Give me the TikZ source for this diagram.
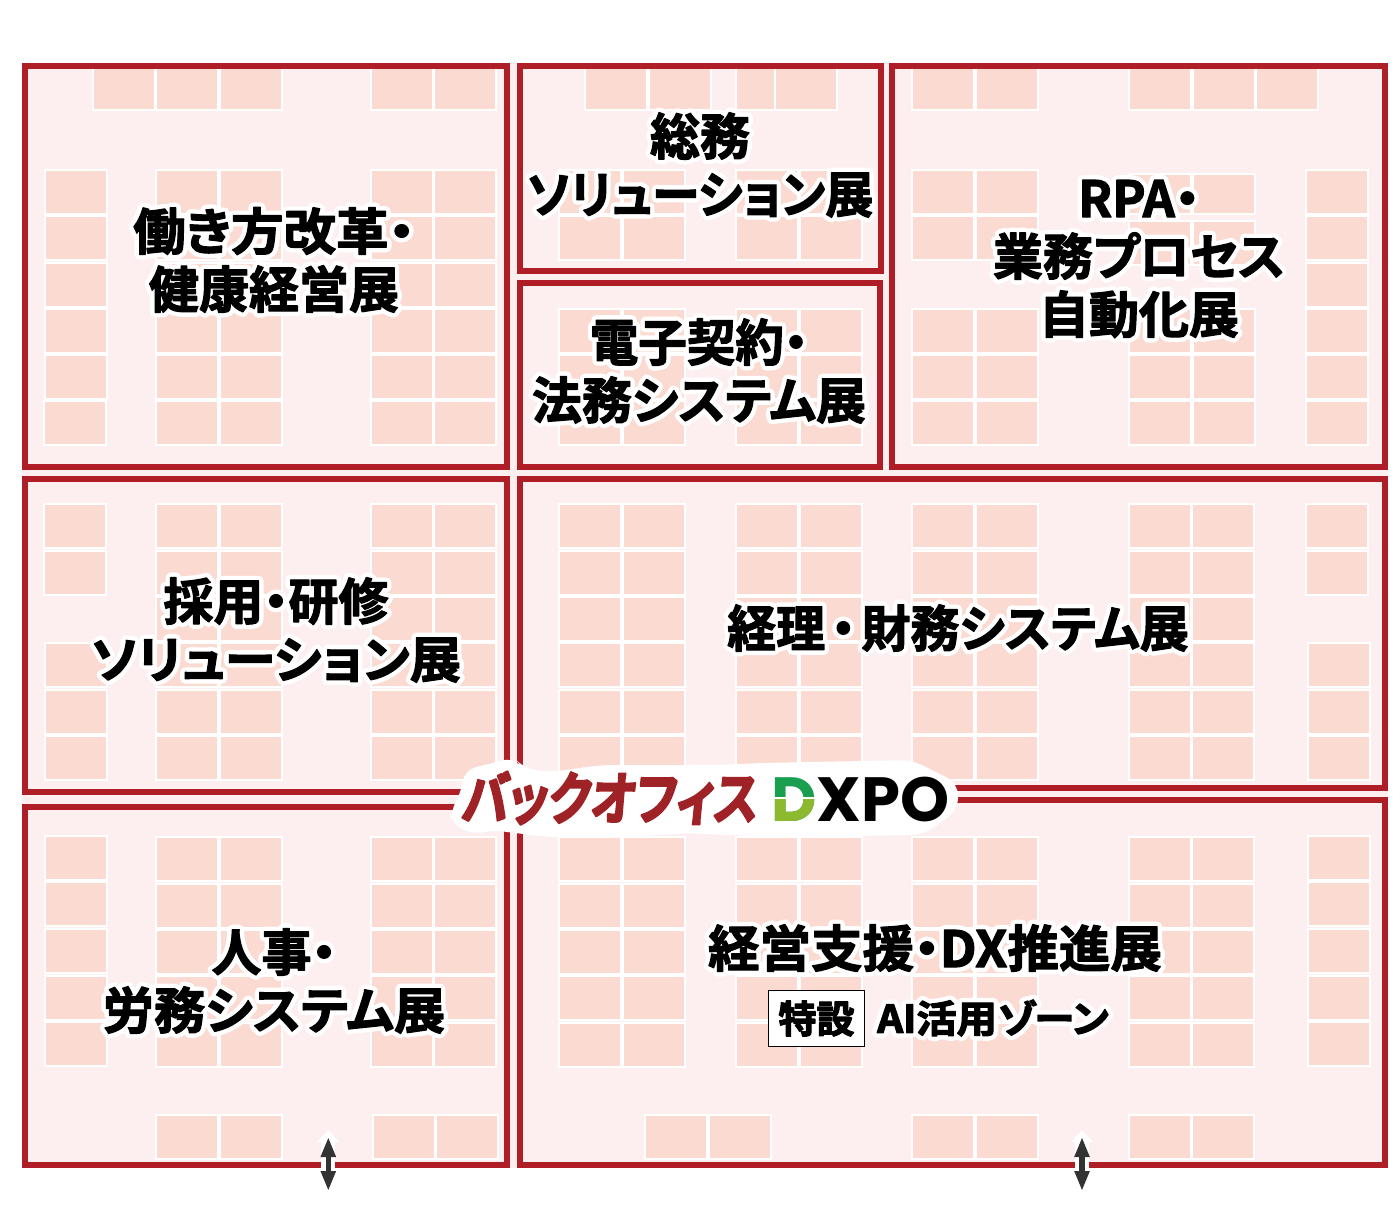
\documentclass[tikz,border=0pt]{standalone}
\usepackage{fontspec}
\usepackage{graphicx}
\usetikzlibrary{arrows.meta}
\setmainfont{Noto Sans CJK JP}[RawFeature=+palt]
\newfontfamily\jpfont{Noto Sans CJK JP}[BoldFont={Noto Sans CJK JP Bold},RawFeature=+palt]
\newfontfamily\logofont{Poppins}
\definecolor{floorpink}{RGB}{253,238,240}
\definecolor{boothpink}{RGB}{251,218,209}
\definecolor{zonered}{RGB}{175,30,38}
\definecolor{logored}{RGB}{158,34,38}
\definecolor{logogreen}{RGB}{26,158,80}
\definecolor{logolime}{RGB}{141,185,46}
\definecolor{arrowgrey}{RGB}{51,51,51}
\newcommand\plainrender{\special{pdf:code 0 Tr 1 w 0 j 0 J 0 0 0 RG}}
\newcommand\halorender{\special{pdf:code 1 Tr 10 w 1 j 1 J 1 1 1 RG}}
\newcommand\inkrender{\special{pdf:code 2 Tr 1.2 w 1 j 1 J 0 0 0 RG}}
\let\linerender\plainrender
\tikzset{
  booth/.style={fill=boothpink,draw=white,line width=2pt},
  zone/.style={draw=zonered,line width=6pt,miter limit=10},
  zonefont/.style={inner sep=0pt,align=center,font=\jpfont\bfseries\fontsize{#1}{58}\selectfont},
  zonehalo/.style={zonefont=#1,
    execute at begin node={\let\linerender\halorender\halorender},
    execute at end node={\plainrender}},
  zonelabel/.style={zonefont=#1,
    execute at begin node={\let\linerender\inkrender\inkrender},
    execute at end node={\plainrender}},
  tagbox/.style={draw=black,fill=white,line width=1.5pt,minimum width=96pt,minimum height=56pt,inner sep=0pt,
    font=\jpfont\bfseries\fontsize{38}{38}\selectfont,
    execute at begin node={\inkrender},
    execute at end node={\plainrender}},
  doublearrow/.style={draw=arrowgrey,line width=5.5pt,{Triangle[length=20pt,width=14pt]}-{Triangle[length=20pt,width=14pt]}},
  arrowhalo/.style={draw=white,line width=14pt,-{Triangle[length=12pt,width=22pt]}}
}
% one grid of booths: optional height, columns, rows
\newcommand\boothgrid[3][42]{%
  \foreach \bx in {#2}{\foreach \by in {#3}{\draw[booth] (\bx-1,\by-1) rectangle +(62,#1+2);}}%
}
\newcommand\zonetitle[4][50]{%
  \node[zonehalo=#1] at (#3) {#4};
  \node[zonelabel=#1] (#2) at (#3) {#4};
}
\newcommand\xfit[2]{\scalebox{#1}[1]{#2}\linerender}
\begin{document}
\begin{tikzpicture}[x=1pt,y=-1pt]
\useasboundingbox (0,0) rectangle (1400,1208);
\fill[floorpink] (22,63) rectangle (1388,1168);
% zone top left
\boothgrid[40]{94.3,157.3,221,371.7,435.3}{69}
\boothgrid{46}{171,217.3,263.7,310,356}
\boothgrid{44.7}{402.3}
\boothgrid{157.3,221,371.7,435.3}{171,217.3,263.7,310,356,402.3}
% zones in the top middle
\boothgrid[40]{586,650,737,776}{69}
\boothgrid{560,623.5,737,800.6}{171,217.3}
\boothgrid{560,623.5,737,800.6}{310,356,402.3}
% zone top right
\boothgrid[40]{913,977,1130.3,1194,1257.4}{69}
\boothgrid{913,977}{171,217.3,310,356,402.3}
\boothgrid[38]{1130.3,1194}{175}
\boothgrid{1130.3,1194}{221.7,310,356,402.3}
\boothgrid{1306.8}{171,217.3,263.7,310,356,402.3}
% middle row
\boothgrid{44.7}{505,551.7}
\boothgrid{46}{644.3,690.7,737}
\boothgrid{157.3,221,371.7,435.3}{505,551.7,598,644.3,690.7,737}
\boothgrid{560,623.5,737,800.6,913,977,1129.8,1193.3}{505,551.7,598,644.3,690.7,737}
\boothgrid{1306.8}{505,551.7}
\boothgrid{1309}{644.3,690.7,737}
% bottom row
\boothgrid{46}{836.7,883.3,930,976.7,1022.7}
\boothgrid{157.3,221,371.7,435.3}{838.3,885,931,977.3,1023.7}
\boothgrid{157.3,221,373.7,437.3}{1116}
\boothgrid{560,623.5,737,800.6,913,977,1129.8,1193.3}{838.3,885,931,977.3,1023.7}
\boothgrid{1308.5}{836.7,883.3,930,976.7,1022.7}
\boothgrid{646.2,709.8,913,977,1129.8,1193.3}{1116}

\draw[zone] (25,66) rectangle (507,466.5);
\draw[zone] (520,66) rectangle (881,270.5);
\draw[zone] (520,282.5) rectangle (880,466.5);
\draw[zone] (892.3,66) rectangle (1385,467);
\draw[zone] (25,478.5) rectangle (507,792);
\draw[zone] (520,478.5) rectangle (1385,788);
\draw[zone] (25,807) rectangle (507,1165);
\draw[zone] (520,800) rectangle (1385,1165);

% arrows through the bottom wall
\coordinate (arrowLtop) at (328.3,1137);
\coordinate (arrowLbot) at (328.3,1191);
\coordinate (arrowLhalo) at (328.3,1172);
\coordinate (arrowLpeak) at (328.3,1130);
\coordinate (arrowRtop) at (1082,1137);
\coordinate (arrowRbot) at (1082,1191);
\coordinate (arrowRhalo) at (1082,1172);
\coordinate (arrowRpeak) at (1082,1130);
\draw[arrowhalo] (arrowLhalo) -- (arrowLpeak);
\draw[arrowhalo] (arrowRhalo) -- (arrowRpeak);
\draw[doublearrow] (arrowLtop) -- (arrowLbot);
\draw[doublearrow] (arrowRtop) -- (arrowRbot);

\zonetitle{workstyle}{274,260}{\xfit{1.05}{働き方改革・}\\健康経営展}
\zonetitle{soumu}{700,165}{総務\\\xfit{.96}{ソリューション展}}
\zonetitle{keiyaku}{699,371}{\xfit{.97}{電子契約・}\\法務システム展}
\zonetitle{rpa}{1139,259}{RPA・\\業務プロセス\\自動化展}
\zonetitle{saiyou}{276,630}{採用・研修\\\xfit{1.025}{ソリューション展}}
\zonetitle{keiri}{958,628}{\xfit{.98}{経理\hspace{6pt}・\hspace{6pt}財務システム展}}
\zonetitle{jinji}{274,981}{人事・\\\xfit{1.025}{労務システム展}}
\zonetitle{keiei}{935,948}{\xfit{1.03}{経営支援・DX推進展}}
\node[tagbox] (tokusetsu) at (816.5,1018.5) {特設};
\zonetitle[38]{aizone}{993,1018}{\xfit{1.06}{AI活用ゾーン}}

% logo on top of the walls
\fill[white,rounded corners=12pt] (462,790) -- (464,770) -- (489,764) -- (514,757) -- (522,768) -- (551,772)
  -- (601,765) -- (716,765) -- (762,763) -- (912,760) -- (958,783) -- (958,810) -- (923,835) -- (769,837)
  -- (687,833) -- (619,838) -- (548,837) -- (491,830) -- (473,835) -- (451,823) -- (450,813) -- cycle;
\node[inner sep=0pt,text=logored,transform shape,xslant=.1,
    execute at begin node={\special{pdf:code 2 Tr 2 w 1 j .62 .133 .149 RG}},
    execute at end node={\plainrender}] (logoback) at (611,798)
  {\resizebox{296pt}{48pt}{\jpfont\bfseries\fontsize{52}{52}\selectfont バックオフィス}};
\node[inner sep=0pt] (logodx) at (860.5,799)
  {\resizebox{178pt}{!}{\logofont\bfseries\textcolor{logogreen}{D}XPO}};
\begin{scope}
\clip (770,798) rectangle (818,826);
\node[inner sep=0pt] (logodxlow) at (860.5,799)
  {\resizebox{178pt}{!}{\logofont\bfseries\textcolor{logolime}{D}\phantom{XPO}}};
\end{scope}
\fill[white] (770,796.8) rectangle (820,799.2);
\end{tikzpicture}
\end{document}
